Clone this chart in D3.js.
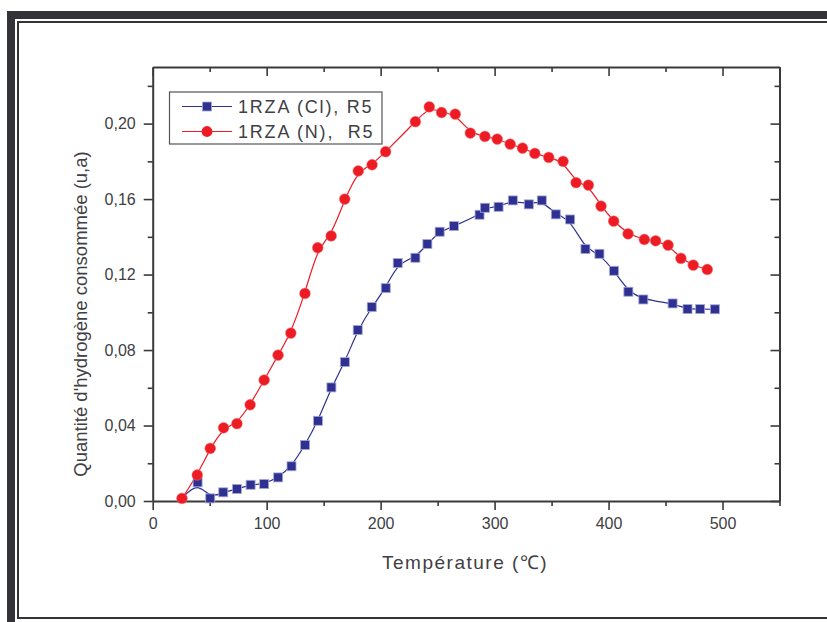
<!DOCTYPE html>
<html><head><meta charset="utf-8">
<script src="https://cdn.jsdelivr.net/npm/d3@7/dist/d3.min.js"></script>
<style>html,body{margin:0;padding:0;background:#fff;}svg{display:block;}</style>
</head><body>
<svg id="chart" width="827" height="622"></svg>
<script>
// Data
const clTemp = [25.7, 39.4, 50.5, 61.9, 73.9, 85.9, 97.8, 110.1, 121.8, 133.7, 145.1, 156.8, 168.6, 179.9, 192.2, 204.5, 215.0, 230.5, 241.0, 251.8, 264.3, 286.8, 291.5, 303.5, 316.0, 330.0, 341.4, 353.7, 366.3, 379.7, 392.0, 404.8, 417.4, 430.5, 456.2, 469.3, 480.4, 493.3];
const clValue = [0.0014, 0.0099, 0.0014, 0.0046, 0.0064, 0.0086, 0.0090, 0.0125, 0.0184, 0.0297, 0.0425, 0.0602, 0.0736, 0.0906, 0.1028, 0.1128, 0.1261, 0.1289, 0.1362, 0.1427, 0.1457, 0.1517, 0.1554, 0.1559, 0.1593, 0.1572, 0.1593, 0.1519, 0.1492, 0.1335, 0.1310, 0.1220, 0.1109, 0.1068, 0.1047, 0.1017, 0.1017, 0.1016];
const clShowMarker = [false].concat(new Array(37).fill(true));
const nTemp = [25.7, 39.1, 50.5, 62.2, 73.9, 85.5, 97.8, 110.0, 121.2, 133.6, 144.8, 156.6, 168.5, 180.4, 192.5, 204.4, 230.5, 242.7, 253.5, 265.5, 278.7, 291.5, 302.3, 313.7, 324.5, 335.3, 347.5, 360.1, 371.5, 382.3, 393.4, 404.5, 417.1, 431.4, 441.3, 452.2, 463.5, 474.3, 486.6];
const nValue = [0.0014, 0.0138, 0.0279, 0.0388, 0.0410, 0.0510, 0.0641, 0.0773, 0.0890, 0.1100, 0.1342, 0.1405, 0.1600, 0.1749, 0.1782, 0.1851, 0.2010, 0.2089, 0.2059, 0.2050, 0.1950, 0.1932, 0.1918, 0.1891, 0.1870, 0.1842, 0.1821, 0.1800, 0.1687, 0.1674, 0.1563, 0.1483, 0.1416, 0.1386, 0.1379, 0.1356, 0.1286, 0.1250, 0.1227];
const seriesNames = ["1RZA (Cl), R5", "1RZA (N),  R5"];
const xMajorTicks = [0, 100, 200, 300, 400, 500];
const xMinorTicks = [50, 150, 250, 350, 450, 550];
const yMajorTicks = [0, 0.04, 0.08, 0.12, 0.16, 0.20];
const yMinorTicks = [0.02, 0.06, 0.10, 0.14, 0.18, 0.22];
const xTitle = "Température (℃)";
const yTitle = "Quantité d'hydrogène consommée (u,a)";

(function () {
const svg = d3.select("#chart");
const frameColor = "#343438";
const axisColor = "#3a3a3e";
const textColor = "#404044";
const blue = "#2e3192";
const red = "#ed1c24";
const font = "'Liberation Sans', Arial, sans-serif";

// outer frame
svg.append("rect").attr("x", 7).attr("y", 11).attr("width", 840).attr("height", 640).attr("fill", frameColor);
svg.append("rect").attr("x", 15).attr("y", 19).attr("width", 840).attr("height", 640).attr("fill", "#fff");
svg.append("rect").attr("x", 18).attr("y", 22).attr("width", 840).attr("height", 596).attr("fill", "none").attr("stroke", frameColor).attr("stroke-width", 2);

const pLeft = 152.7, pRight = 779.5, pTop = 67, pBottom = 501;
const x = d3.scaleLinear().domain([0, 550]).range([pLeft, pRight]);
const y = d3.scaleLinear().domain([0, 0.23]).range([pBottom, pTop]);
const fmt = v => d3.format(".2f")(v).replace(".", ",");

const axStyle = g => {
  g.selectAll("path.domain").attr("stroke", axisColor).attr("stroke-width", 2);
  g.selectAll(".tick line").attr("stroke", axisColor).attr("stroke-width", 1.6);
  g.selectAll(".tick text").attr("fill", textColor).style("font-family", font).style("font-size", "16px");
};

// bottom axis
const gb = svg.append("g").attr("transform", `translate(0,${pBottom})`);
gb.call(d3.axisBottom(x).tickValues(xMajorTicks).tickSize(9).tickSizeOuter(0).tickPadding(8).tickFormat(d3.format("d"))).call(axStyle);
gb.append("g").call(d3.axisBottom(x).tickValues(xMinorTicks).tickSize(5).tickSizeOuter(0).tickFormat("")).call(axStyle).select("path.domain").remove();
// top axis (inward)
const gt = svg.append("g").attr("transform", `translate(0,${pTop})`);
gt.call(d3.axisBottom(x).tickValues(xMajorTicks).tickSize(9).tickSizeOuter(0).tickFormat("")).call(axStyle);
gt.append("g").call(d3.axisBottom(x).tickValues(xMinorTicks).tickSize(5).tickSizeOuter(0).tickFormat("")).call(axStyle).select("path.domain").remove();
// left axis
const gl = svg.append("g").attr("transform", `translate(${pLeft},0)`);
gl.call(d3.axisLeft(y).tickValues(yMajorTicks).tickSize(9).tickSizeOuter(0).tickPadding(8).tickFormat(fmt)).call(axStyle);
gl.append("g").call(d3.axisLeft(y).tickValues(yMinorTicks).tickSize(5).tickSizeOuter(0).tickFormat("")).call(axStyle).select("path.domain").remove();
// right axis (inward)
const gr = svg.append("g").attr("transform", `translate(${pRight},0)`);
gr.call(d3.axisLeft(y).tickValues(yMajorTicks).tickSize(9).tickSizeOuter(0).tickFormat("")).call(axStyle);
gr.append("g").call(d3.axisLeft(y).tickValues(yMinorTicks).tickSize(5).tickSizeOuter(0).tickFormat("")).call(axStyle).select("path.domain").remove();

// axis titles
svg.append("text").attr("x", (pLeft + pRight) / 2 - 1).attr("y", 569).attr("text-anchor", "middle")
  .attr("fill", textColor).style("font-family", font).style("font-size", "19px").style("letter-spacing", "1.5px")
  .text(xTitle);
svg.append("text").attr("transform", "translate(87,314) rotate(-90)").attr("text-anchor", "middle")
  .attr("fill", textColor).style("font-family", font).style("font-size", "18.5px")
  .text(yTitle);

// series
const clData = clTemp.map((t, i) => ({t, v: clValue[i], m: clShowMarker[i]}));
const nData = nTemp.map((t, i) => ({t, v: nValue[i]}));
const line = d3.line().x(d => x(d.t)).y(d => y(d.v)).curve(d3.curveBasis);

svg.append("path").datum(clData).attr("d", line).attr("fill", "none").attr("stroke", blue).attr("stroke-width", 1.2);
svg.append("path").datum(nData).attr("d", line).attr("fill", "none").attr("stroke", red).attr("stroke-width", 1.2);

const sq = 9;
svg.append("g").selectAll("rect").data(clData.filter(d => d.m)).join("rect")
  .attr("x", d => x(d.t) - sq / 2).attr("y", d => y(d.v) - sq / 2).attr("width", sq).attr("height", sq)
  .attr("fill", blue).attr("stroke", "#a6a8d4").attr("stroke-width", 0.8);
svg.append("g").selectAll("circle").data(nData).join("circle")
  .attr("cx", d => x(d.t)).attr("cy", d => y(d.v)).attr("r", 5.4)
  .attr("fill", red).attr("stroke", "#f5787c").attr("stroke-width", 0.5);

// legend
const lg = svg.append("g");
lg.append("rect").attr("x", 169.5).attr("y", 92).attr("width", 212.5).attr("height", 52)
  .attr("fill", "#fff").attr("stroke", "#55555a").attr("stroke-width", 1.2);
const rows = [{name: seriesNames[0], c: blue, shape: "sq"}, {name: seriesNames[1], c: red, shape: "ci"}];
rows.forEach((r, i) => {
  const cy = 106.5 + i * 25;
  lg.append("line").attr("x1", 182).attr("x2", 232).attr("y1", cy).attr("y2", cy).attr("stroke", r.c).attr("stroke-width", 1.2);
  if (r.shape === "sq") {
    lg.append("rect").attr("x", 207 - sq / 2).attr("y", cy - sq / 2).attr("width", sq).attr("height", sq)
      .attr("fill", blue).attr("stroke", "#a6a8d4").attr("stroke-width", 0.8);
  } else {
    lg.append("circle").attr("cx", 207).attr("cy", cy).attr("r", 5.4).attr("fill", red);
  }
  lg.append("text").attr("x", 238).attr("y", cy + 6.5).attr("fill", textColor)
    .style("font-family", font).style("font-size", "18px").style("letter-spacing", "1.8px")
    .style("white-space", "pre").attr("xml:space", "preserve")
    .text(r.name);
});
})();
</script>
</body></html>
